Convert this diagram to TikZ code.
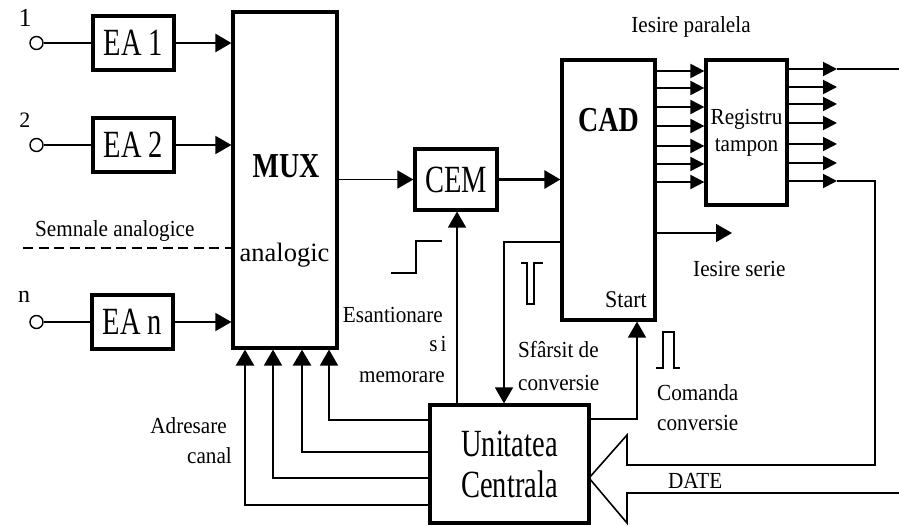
\documentclass[tikz,border=0pt]{standalone}
\usepackage{fontspec}
\setmainfont{Liberation Serif}
\newfontfamily\fbig[FakeStretch=0.74]{Liberation Serif}
\newfontfamily\fbold[FakeStretch=0.8]{Liberation Serif}
\newfontfamily\fsmall[FakeStretch=0.92]{Liberation Serif}
\usetikzlibrary{arrows.meta}
\tikzset{
  box/.style={draw, line width=3.2pt, inner sep=0pt, rectangle},
  bigtxt/.style={font=\fbig\fontsize{38.5}{41}\selectfont},
  boldtxt/.style={font=\fbold\bfseries\fontsize{35}{40}\selectfont},
  smalltxt/.style={font=\fsmall\fontsize{23}{27}\selectfont, inner sep=0pt},
  thinln/.style={line width=1.6pt},
  thickln/.style={line width=2.8pt},
  arr/.style={-{Triangle[length=16pt,width=18pt]}},
  arrs/.style={-{Triangle[length=14pt,width=14pt]}, line width=1.9pt},
  incircle/.style={draw, circle, line width=1.4pt, minimum size=13pt, inner sep=0pt},
}
\begin{document}
\begin{tikzpicture}[x=1pt,y=-1pt]
\useasboundingbox (0,0) rectangle (899,526);

% input circles and labels
\node[incircle] (c1) at (36.5,43) {};
\node[incircle] (c2) at (36.5,145) {};
\node[incircle] (cn) at (36.5,322) {};
\node[font=\fontsize{26}{28}\selectfont, inner sep=0pt, anchor=base] (l1) at (25,27) {1};
\node[font=\fontsize{22}{26}\selectfont, inner sep=0pt, anchor=base] (l2) at (25,128) {2};
\node[font=\fontsize{24}{26}\selectfont, inner sep=0pt, anchor=base] (ln) at (24,303) {n};

% boxes
\node[box, minimum width=81pt, minimum height=54pt, bigtxt] (ea1) at (133.5,43) {EA 1};
\node[box, minimum width=81pt, minimum height=54pt, bigtxt] (ea2) at (133.5,145) {EA 2};
\node[box, minimum width=81pt, minimum height=54pt, bigtxt] (ean) at (132.5,322) {EA n};
\node[box, minimum width=104pt, minimum height=336pt] (mux) at (285,180) {};
\node[box, minimum width=82pt, minimum height=61pt, bigtxt] (cem) at (456,179.5) {CEM};
\node[box, minimum width=93pt, minimum height=260pt] (cad) at (608.5,190) {};
\node[box, minimum width=81pt, minimum height=145pt, smalltxt, align=center,
      font=\fsmall\fontsize{23}{27}\selectfont] (reg) at (746.5,132.5) {Registru\\tampon};
\node[box, minimum width=159pt, minimum height=118pt, bigtxt, align=center] (uc) at (509.5,464) {Unitatea\\Centrala};

% texts in boxes
\node[boldtxt, inner sep=0pt, anchor=base] (muxt) at (286,178) {MUX};
\node[font=\fontsize{26.5}{30}\selectfont, inner sep=0pt, anchor=base] (anat) at (284.5,262) {analogic};
\node[boldtxt, inner sep=0pt, anchor=base] (cadt) at (608.5,132) {CAD};
\node[smalltxt, anchor=base east, font=\fsmall\fontsize{24}{27}\selectfont] (start) at (647,308) {Start};

% labels
\node[smalltxt, anchor=base west] (sem) at (35,237) {Semnale analogice};
\node[smalltxt, anchor=base] (ipar) at (691,33) {Iesire paralela};
\node[smalltxt, anchor=base west] (iser) at (693,277) {Iesire serie};
\node[smalltxt, anchor=base east] (esa) at (443,323) {Esantionare};
\node[smalltxt, anchor=base] (si) at (438,352) {s\hspace{3pt}i};
\node[smalltxt, anchor=base east] (mem) at (445,382) {memorare};
\node[smalltxt, anchor=base west] (sf1) at (518,357) {Sfârsit de};
\node[smalltxt, anchor=base west] (sf2) at (518,390) {conversie};
\node[smalltxt, anchor=base west] (cm1) at (657,400) {Comanda};
\node[smalltxt, anchor=base west] (cm2) at (657,430) {conversie};
\node[smalltxt, anchor=base east] (adr1) at (227,433) {Adresare};
\node[smalltxt, anchor=base east] (adr2) at (232,463) {canal};
\node[smalltxt, anchor=base west] (date) at (668,488) {DATE};

% inputs
\draw[thinln] (c1) -- (ea1.west);
\draw[thinln] (c2) -- (ea2.west);
\draw[thinln] (cn) -- (ean.west);
\draw[thickln, arr] (ea1.east) -- (ea1.east -| mux.west);
\draw[thinln, arr] (ea2.east) -- (ea2.east -| mux.west);
\draw[thinln, arr] (ean.east) -- (ean.east -| mux.west);
\coordinate (dsh) at (23,248);
\draw[line width=1.7pt, dash pattern=on 10pt off 5.5pt] (dsh) -- (dsh -| mux.west);

% MUX -> CEM -> CAD
\draw[thinln, arr] (mux.east |- cem.west) -- (cem.west);
\draw[thickln, arr] (cem.east) -- (cem.east -| cad.west);

% CAD -> register
\foreach \i/\y in {1/71,2/88,3/107,4/126,5/146,6/164,7/182}{
  \coordinate (r\i) at (706,\y);
  \draw[arrs] (cad.east |- r\i) -- (reg.west |- r\i);
}
% register outputs
\foreach \i/\y in {1/69,2/87,3/104,4/123,5/144,6/163,7/181}{
  \coordinate (o\i) at (837,\y);
  \draw[arrs] (reg.east |- o\i) -- (o\i);
}
\coordinate (pout) at (899,69);
\draw[line width=1.9pt] (o1) -- (pout);

% serial output
\coordinate (ser) at (732,233);
\draw[thinln, arr] (cad.east |- ser) -- (ser);

% end of conversion: CAD -> UC
\coordinate (eoc) at (504,242);
\draw[thinln, arr] (cad.west |- eoc) -- (eoc) -- (eoc |- uc.north);

% sample/hold: UC -> CEM
\coordinate (sh) at (457,405);
\draw[thinln, arr] (sh) -- (sh |- cem.south);

% start conversion: UC -> CAD
\coordinate (stc) at (637,419);
\draw[thinln, arr] (uc.east |- stc) -- (stc) -- (stc |- cad.south);

% channel address lines
\coordinate (a1) at (329,420);
\coordinate (a2) at (302,452);
\coordinate (a3) at (273,478);
\coordinate (a4) at (245,505);
\draw[line width=1.8pt, arr] (uc.west |- a1) -- (a1) -- (a1 |- mux.south);
\draw[line width=2.5pt, arr] (uc.west |- a2) -- (a2) -- (a2 |- mux.south);
\draw[line width=1.8pt, arr] (uc.west |- a3) -- (a3) -- (a3 |- mux.south);
\draw[line width=2.5pt, arr] (uc.west |- a4) -- (a4) -- (a4 |- mux.south);

% DATE bus arrow
\coordinate (dtip) at (589,478);
\coordinate (dend) at (899,493);
\draw[thinln, line join=miter] (o7) -- (875,181) -- (875,465) -- (627,465) -- (627,435) -- (dtip)
   -- (627,523) -- (627,493) -- (dend);

% signal symbols
\draw[thinln] (391,273) -- (416,273) -- (416,241) -- (442,241);
\draw[thinln] (521,263) -- (527,263) -- (527,304) -- (534,304) -- (534,263) -- (543,263);
\draw[thinln] (656,368) -- (663,368) -- (663,332) -- (674,332) -- (674,368) -- (680,368);
\end{tikzpicture}
\end{document}
